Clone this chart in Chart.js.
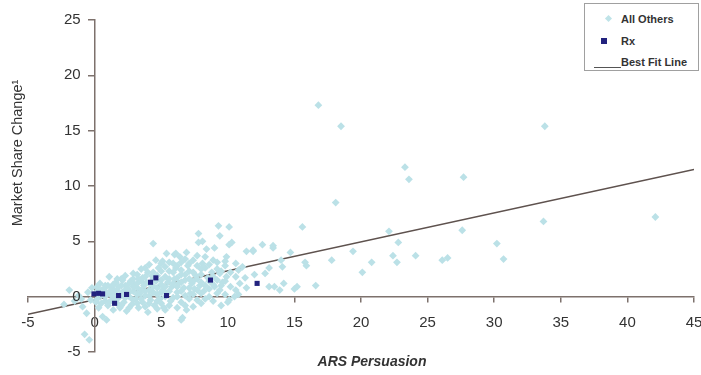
<!DOCTYPE html>
<html><head><meta charset="utf-8">
<script src="https://cdn.jsdelivr.net/npm/chart.js@4/dist/chart.umd.min.js"></script>
<style>
html,body{margin:0;padding:0;background:#fff;}
#wrap{position:relative;width:701px;height:375px;overflow:hidden;}
#legend{position:absolute;left:584px;top:3px;width:113px;height:66px;border:1px solid #a0a0a0;background:#fff;
 font-family:"Liberation Sans",Arial,sans-serif;font-weight:bold;font-size:11px;color:#333;}
.row{position:absolute;left:0;height:14px;line-height:14px;}
.txt{position:absolute;left:36px;white-space:nowrap;}
</style></head>
<body><div id="wrap"><canvas id="c" width="701" height="375"></canvas>
<div id="legend">
 <div class="row" style="top:8px;width:113px"><span style="position:absolute;left:21px;top:4px;width:5px;height:5px;background:#bfe3e8;transform:rotate(45deg)"></span><span class="txt">All Others</span></div>
 <div class="row" style="top:30px;width:113px"><span style="position:absolute;left:16px;top:4px;width:6px;height:6px;background:#22227e"></span><span class="txt">Rx</span></div>
 <div class="row" style="top:51px;width:113px"><span style="position:absolute;left:9px;top:12px;width:27px;height:1px;background:#555"></span><span class="txt">Best Fit Line</span></div>
</div></div>
<script>
const xTicks = [-5,0,5,10,15,20,25,30,35,40,45];
const yTicks = [-5,0,5,10,15,20,25];
const fitLine = [[-5,-1.6],[45,11.5]];
const rxPoints = [[-0.05,0.25],[0.3,0.3],[0.6,0.25],[1.5,-0.6],[1.8,0.1],[2.4,0.2],[4.2,1.3],[4.6,1.7],[5.4,0.1],[8.7,1.5],[12.2,1.2]];
const othersPoints = [
[-2.3,-0.7],[-1.9,0.6],[-1.5,-0.4],[-1.2,0.1],[-0.9,-0.9],[-0.75,-3.4],[-0.4,-3.9],[-0.6,-1.5],[-0.5,0.4],[-0.3,-0.3],[-0.2,0.8],[-1.0,-0.2],
[0.1,-0.5],[0.2,0.5],[0.3,-1.0],[0.4,1.2],[0.5,0.1],[0.6,-1.8],[0.7,0.7],[0.8,-0.4],[0.9,-2.1],[0.9,0.3],[1.0,1.0],[1.0,-0.8],
[1.1,1.8],[1.2,0.2],[1.3,-0.3],[1.3,0.8],[1.4,-1.2],[1.5,0.5],[1.6,1.3],[1.7,-0.6],[1.8,0.9],[1.9,0.0],[1.9,-1.0],[2.0,1.6],
[2.1,1.5],[2.1,0.4],[2.2,-0.5],[2.3,1.0],[2.4,-1.3],[2.5,0.7],[2.6,0.0],[2.7,1.4],[2.8,-0.7],[2.9,2.1],[2.9,0.5],[3.0,1.1],
[3.1,-0.2],[3.2,0.8],[3.3,1.6],[3.3,-1.0],[3.4,0.3],[3.5,2.5],[3.6,1.7],[3.6,-0.5],[3.7,1.0],[3.8,0.1],[3.9,1.3],[4.0,-1.4],[4.0,2.2],
[4.1,0.6],[4.2,-0.3],[4.3,1.9],[4.4,4.8],[4.4,0.9],[4.5,-0.8],[4.6,3.3],[4.6,1.4],[4.7,0.2],[4.8,2.6],[4.9,-0.2],[5.0,1.1],[5.0,3.0],
[5.1,3.2],[5.1,0.6],[5.2,-1.0],[5.3,1.8],[5.4,3.9],[5.4,0.3],[5.5,1.3],[5.6,2.3],[5.7,-0.4],[5.8,0.9],[5.9,3.0],[6.0,1.6],[6.0,3.8],
[6.1,3.9],[6.1,2.6],[6.2,0.4],[6.3,1.2],[6.4,3.6],[6.5,-2.1],[6.5,2.0],[6.6,-1.9],[6.7,0.8],[6.8,1.5],[6.9,4.0],[6.9,-1.2],[7.0,2.8],
[7.1,2.3],[7.2,0.3],[7.3,1.2],[7.4,3.3],[7.5,0.7],[7.6,1.9],[7.7,-0.3],[7.8,4.9],[7.8,5.7],[7.9,1.0],[8.0,2.5],
[8.1,3.0],[8.1,5.0],[8.2,0.5],[8.4,4.3],[8.5,1.7],[8.6,0.0],[8.8,2.2],[8.9,3.3],[9.0,4.4],[9.0,0.9],
[9.3,6.4],[9.4,5.5],[9.4,2.1],[9.4,0.6],[9.6,1.3],[9.8,2.8],[9.9,3.6],[9.9,1.8],[10.0,-0.5],
[10.1,6.3],[10.1,4.7],[10.1,-0.3],[10.3,4.9],[10.5,0.0],[10.6,3.0],[10.6,1.8],[10.6,0.6],[10.9,1.2],[11.1,2.7],[11.3,1.7],[11.4,4.1],[11.4,0.8],[11.9,4.1],[11.9,4.2],[12.0,2.0],
[12.6,4.7],[12.8,2.1],[13.1,2.6],[13.1,0.9],[13.4,4.4],[13.4,4.6],[13.5,0.9],[13.9,0.6],[14.0,3.3],[14.1,2.7],[14.2,1.2],[14.7,4.0],
[15.0,0.7],[15.2,0.9],[15.6,6.3],[15.8,3.1],[15.9,2.8],[16.6,1.0],[16.8,17.3],[17.8,3.3],[18.1,8.5],[18.5,15.4],[19.4,4.1],[20.1,2.2],[20.8,3.1],
[22.1,5.9],[22.4,3.7],[22.7,3.1],[22.8,4.9],[23.3,11.7],[23.6,10.6],[24.1,3.7],[26.1,3.3],[26.5,3.5],[27.6,6.0],[27.7,10.8],[30.2,4.8],[30.7,3.4],
[33.7,6.8],[33.8,15.4],[42.1,7.2],
[0.2,-0.2],[0.2,0.9],[0.5,-0.6],[0.5,0.6],[0.8,0.0],[0.8,1.0],[1.1,-0.5],[1.1,0.4],[1.4,0.1],[1.4,1.1],
[1.7,-0.2],[1.7,0.6],[1.7,1.6],[2.0,-0.8],[2.0,0.2],[2.0,1.0],[2.3,-0.1],[2.3,0.6],[2.3,1.9],[2.6,-1.0],[2.6,0.4],[2.6,1.2],
[2.9,-0.3],[2.9,0.9],[2.9,1.6],[3.2,-0.6],[3.2,0.2],[3.2,1.2],[3.2,2.0],[3.5,-0.2],[3.5,0.6],[3.5,1.4],
[3.8,-0.9],[3.8,0.5],[3.8,1.8],[3.8,2.6],[4.1,-0.6],[4.1,0.1],[4.1,1.2],[4.1,2.9],[4.4,0.4],[4.4,1.6],[4.4,2.2],
[4.7,-1.1],[4.7,-0.4],[4.7,0.8],[4.7,1.9],[5.0,-0.6],[5.0,0.4],[5.0,1.5],[5.0,2.3],[5.3,-1.2],[5.3,0.0],[5.3,0.9],[5.3,2.7],
[5.6,-0.8],[5.6,0.5],[5.6,1.6],[5.6,3.1],[5.9,-0.1],[5.9,1.2],[5.9,2.2],[6.2,-1.0],[6.2,0.0],[6.2,0.9],[6.2,1.7],[6.2,2.8],
[6.5,-0.5],[6.5,0.5],[6.5,1.3],[6.5,2.4],[6.5,3.1],[6.8,-0.8],[6.8,0.1],[6.8,2.0],[6.8,3.4],[7.1,-0.2],[7.1,0.8],[7.1,1.6],[7.1,3.0],
[7.4,-0.9],[7.4,0.2],[7.4,1.4],[7.4,2.2],[7.7,0.6],[7.7,1.6],[7.7,2.8],[7.7,3.7],[8.0,-0.6],[8.0,0.3],[8.0,1.3],[8.0,2.0],
[8.3,-0.2],[8.3,1.0],[8.3,2.6],[8.3,3.6],[8.6,0.7],[8.6,1.4],[8.6,2.9],[8.9,-0.4],[8.9,1.1],[8.9,1.8],
[9.2,0.3],[9.2,1.5],[9.2,2.5],[9.2,3.1],[9.5,-0.8],[9.5,1.0],[9.5,2.3],[9.8,0.2],[9.8,1.4],[9.8,3.2],[10.2,0.9],[10.2,2.2],[10.8,0.2],[10.8,2.4]
];
const xTitle = 'ARS Persuasion';
const yTitle = 'Market Share Change\u00B9';

const toXY = a => a.map(p => ({x:p[0], y:p[1]}));
const axisColor = '#7d716c';
const fontFamily = '"Liberation Sans", Arial, sans-serif';
const tickFont = {family:fontFamily, size:15};

const titles = {
  id:'titles',
  afterDraw(chart){
    const ctx = chart.ctx;
    const xs = chart.scales.x, ys = chart.scales.y;
    ctx.save();
    ctx.fillStyle = '#333';
    ctx.font = '15px ' + fontFamily;
    ctx.textAlign = 'right'; ctx.textBaseline = 'middle';
    const x0 = xs.getPixelForValue(0);
    ys.ticks.forEach(t => ctx.fillText(String(t.value), x0 - 14, ys.getPixelForValue(t.value)));
    ctx.textAlign = 'center';
    ctx.font = 'italic bold 14px ' + fontFamily;
    ctx.fillText(xTitle, 372, 362);
    ctx.translate(18, 153);
    ctx.rotate(-Math.PI/2);
    ctx.font = '14.5px ' + fontFamily;
    ctx.fillText(yTitle, 0, 0);
    ctx.restore();
  }
};

new Chart(document.getElementById('c'), {
  type:'scatter',
  data:{datasets:[
    {label:'All Others', data:toXY(othersPoints), backgroundColor:'#bbe1e7', borderColor:'#bbe1e7', pointStyle:'rectRot', pointRadius:3.9, borderWidth:0, order:2},
    {label:'Rx', data:toXY(rxPoints), backgroundColor:'#22227e', borderColor:'#22227e', pointStyle:'rect', pointRadius:3.6, borderWidth:0, order:1},
    {type:'line', label:'Best Fit Line', data:toXY(fitLine), borderColor:'#5e524e', borderWidth:1.5, pointRadius:0, fill:false, order:3}
  ]},
  options:{
    responsive:false, animation:false, devicePixelRatio:1,
    layout:{padding:{left:28, right:7, top:20, bottom:23}},
    plugins:{legend:{display:false}, tooltip:{enabled:false}},
    scales:{
      x:{type:'linear', min:-5, max:45, position:{y:0},
         afterBuildTicks: s => { s.ticks = xTicks.map(v=>({value:v})); },
         afterFit: s => { s.paddingLeft = 0; s.paddingRight = 0; },
         ticks:{font:tickFont, color:'#333', padding:12, maxRotation:0},
         grid:{drawOnChartArea:false, drawTicks:true, tickLength:5, color:axisColor, lineWidth:1.5},
         border:{display:true, color:axisColor, width:1.5}},
      y:{type:'linear', min:-5, max:25, position:{x:0},
         afterBuildTicks: s => { s.ticks = yTicks.map(v=>({value:v})); },
         afterFit: s => { s.paddingTop = 0; s.paddingBottom = 0; },
         ticks:{display:false},
         grid:{drawOnChartArea:false, drawTicks:true, tickLength:6, color:axisColor, lineWidth:1.5},
         border:{display:true, color:axisColor, width:1.5}}
    }
  },
  plugins:[titles]
});
</script></body></html>
